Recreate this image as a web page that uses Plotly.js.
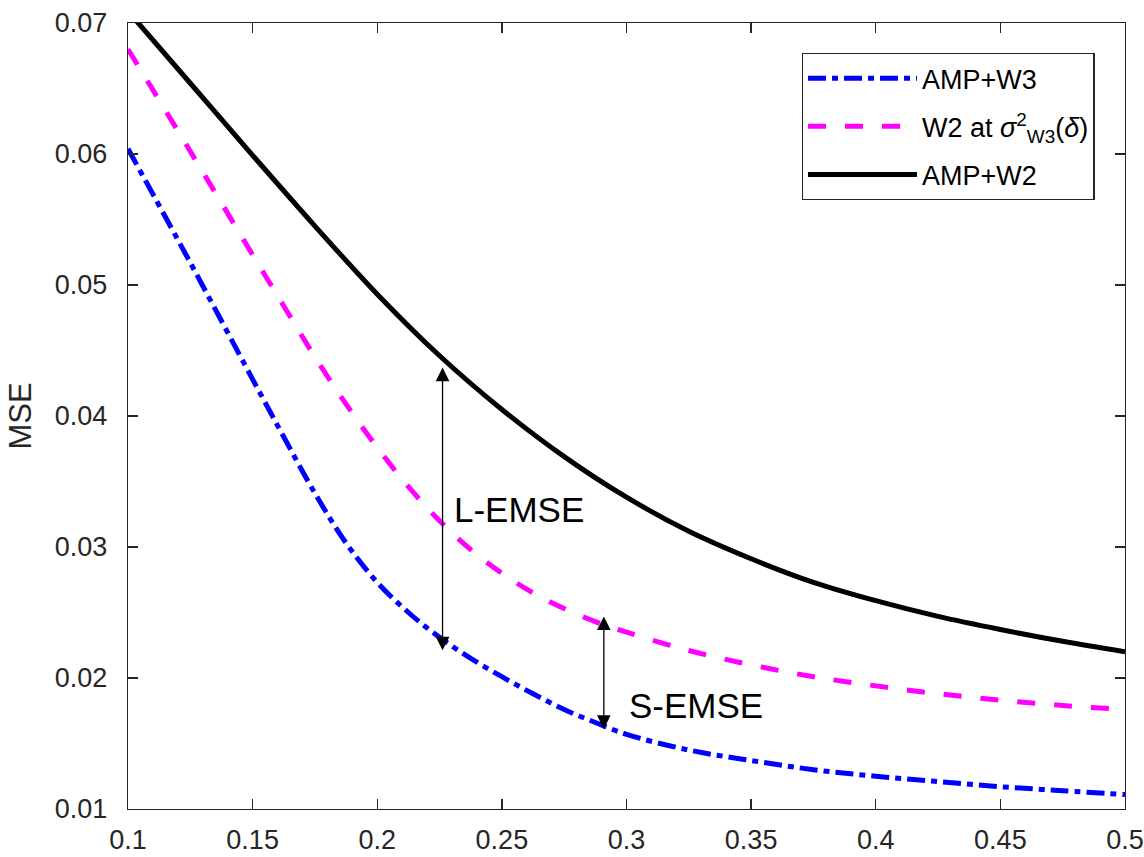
<!DOCTYPE html>
<html>
<head>
<meta charset="utf-8">
<script src="https://cdn.plot.ly/plotly-3.0.1.min.js"></script>
<style>html,body{margin:0;padding:0;background:#fff;}</style>
</head>
<body>
<div id="chart" style="width:1144px;height:857px;"></div>
<script>
// AMP+W3 (blue dash-dot)
const deltaW3 = [0.100, 0.125, 0.150, 0.1625, 0.175, 0.1875, 0.200, 0.2125, 0.225, 0.2375, 0.250, 0.2625, 0.275, 0.2875, 0.300, 0.325, 0.350, 0.375, 0.400, 0.425, 0.450, 0.475, 0.500];
const ampW3 = [0.0604, 0.0517, 0.0428, 0.0384, 0.0341, 0.0303, 0.0273, 0.0250, 0.0231, 0.0215, 0.0201, 0.0188, 0.0176, 0.0166, 0.0157, 0.0145, 0.0137, 0.0130, 0.0125, 0.0121, 0.0117, 0.0114, 0.0111];
// W2 at sigma^2_W3(delta) (magenta dashed)
const deltaW2s = [0.100, 0.125, 0.150, 0.1625, 0.175, 0.1875, 0.200, 0.2125, 0.225, 0.2375, 0.250, 0.2625, 0.275, 0.2875, 0.300, 0.325, 0.350, 0.375, 0.400, 0.425, 0.450, 0.475, 0.500];
const w2AtSigmaW3 = [0.0680, 0.0602, 0.0523, 0.0484, 0.0445, 0.0409, 0.0376, 0.0346, 0.0320, 0.0298, 0.0280, 0.0265, 0.0253, 0.0243, 0.0235, 0.0221, 0.0210, 0.0201, 0.0194, 0.0188, 0.0183, 0.0179, 0.0176];
// AMP+W2 (black solid)
const deltaW2 = [0.100, 0.125, 0.150, 0.175, 0.200, 0.225, 0.250, 0.275, 0.300, 0.325, 0.350, 0.375, 0.400, 0.425, 0.450, 0.475, 0.500];
const ampW2 = [0.0709, 0.0654, 0.0599, 0.0545, 0.0493, 0.0446, 0.0405, 0.0369, 0.0338, 0.0312, 0.0291, 0.0273, 0.0259, 0.0247, 0.0237, 0.0228, 0.0220];

const seriesNames = ["AMP+W3", "W2 at <i>σ</i><sup>2</sup><sub>W3</sub>(<i>δ</i>)", "AMP+W2"];

const xTickVals = [0.1, 0.15, 0.2, 0.25, 0.3, 0.35, 0.4, 0.45, 0.5];
const xTickText = ["0.1", "0.15", "0.2", "0.25", "0.3", "0.35", "0.4", "0.45", "0.5"];
const yTickVals = [0.01, 0.02, 0.03, 0.04, 0.05, 0.06, 0.07];
const yTickText = ["0.01", "0.02", "0.03", "0.04", "0.05", "0.06", "0.07"];

// annotation arrows: [x, yTop, yBottom]
const lEmseArrow = [0.2262, 0.0437, 0.0220];
const sEmseArrow = [0.2909, 0.0247, 0.0160];
const lEmseLabel = {x: 0.2298, y: 0.0329, text: "L-EMSE"};
const sEmseLabel = {x: 0.3000, y: 0.0179, text: "S-EMSE"};

const FONT = "Liberation Sans, Arial, Helvetica, sans-serif";
const AX = "#262626";

const traces = [
  {x: deltaW3, y: ampW3, name: seriesNames[0], mode: "lines", legendgroup: "a",
   line: {color: "#0000ff", width: 5, dash: "18px,6px,6px,6px", shape: "spline", smoothing: 1}},
  {x: deltaW2s, y: w2AtSigmaW3, name: seriesNames[1], mode: "lines", legendgroup: "b",
   line: {color: "#ff00ff", width: 5, dash: "18px,19px", shape: "spline", smoothing: 1}},
  {x: deltaW2, y: ampW2, name: seriesNames[2], mode: "lines", legendgroup: "c",
   line: {color: "#000000", width: 5, shape: "spline", smoothing: 1}}
];

function arrow(a) {
  return {x: a[0], y: a[1], ax: a[0], ay: a[2], xref: "x", yref: "y", axref: "x", ayref: "y",
    text: "", showarrow: true, arrowhead: 2, startarrowhead: 2, arrowside: "end+start",
    arrowsize: 2.1, startarrowsize: 2.1, arrowwidth: 1.3, arrowcolor: "#000"};
}
function label(l) {
  return {x: l.x, y: l.y, xref: "x", yref: "y", text: l.text, showarrow: false,
    xanchor: "left", yanchor: "middle", font: {family: FONT, size: 35, color: "#000"}};
}

const axisCommon = {
  showline: true, linecolor: AX, linewidth: 1.3, mirror: "ticks",
  ticks: "inside", ticklen: 10, tickwidth: 1.3, tickcolor: AX,
  showgrid: false, zeroline: false,
  tickfont: {family: FONT, size: 27, color: AX}
};

const layout = {
  width: 1144, height: 857,
  margin: {l: 128, r: 19, t: 23, b: 48, pad: 0},
  paper_bgcolor: "#fff", plot_bgcolor: "#fff",
  font: {family: FONT, color: AX},
  showlegend: true,
  legend: {x: 0.6757, y: 0.962, xanchor: "left", yanchor: "top",
    bgcolor: "#fff", bordercolor: AX, borderwidth: 1.3,
    font: {family: FONT, size: 27, color: "#000"},
    itemwidth: 109, tracegroupgap: 10},
  xaxis: Object.assign({}, axisCommon, {range: [0.1, 0.5], tickmode: "array",
    tickvals: xTickVals, ticktext: xTickText, ticklabelstandoff: 6}),
  yaxis: Object.assign({}, axisCommon, {range: [0.01, 0.07], tickmode: "array",
    tickvals: yTickVals, ticktext: yTickText, ticklabelstandoff: 14,
    title: {text: "MSE", font: {family: FONT, size: 31, color: AX}, standoff: 14}}),
  annotations: [arrow(lEmseArrow), arrow(sEmseArrow), label(lEmseLabel), label(sEmseLabel)]
};

Plotly.newPlot("chart", traces, layout, {displayModeBar: false, staticPlot: true});
</script>
</body>
</html>
